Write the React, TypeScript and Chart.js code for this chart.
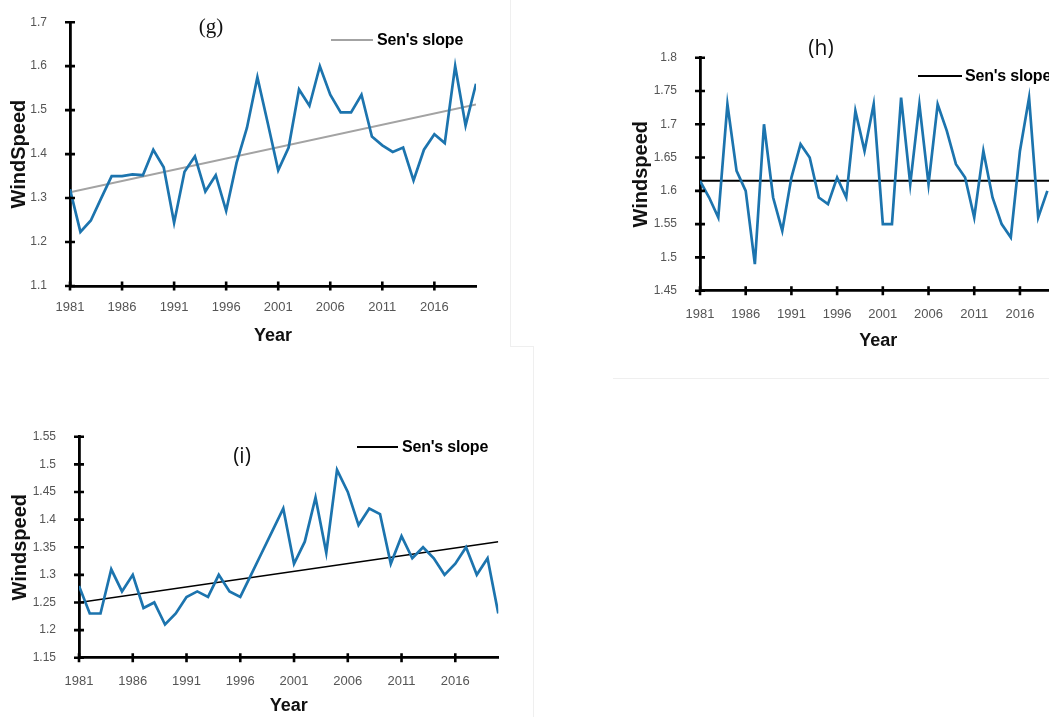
import React, { useEffect, useRef } from "react";
import { Chart, registerables } from "chart.js";

Chart.register(...registerables);

// ---------- data ----------
const years = [
  1981, 1982, 1983, 1984, 1985, 1986, 1987, 1988, 1989, 1990,
  1991, 1992, 1993, 1994, 1995, 1996, 1997, 1998, 1999, 2000,
  2001, 2002, 2003, 2004, 2005, 2006, 2007, 2008, 2009, 2010,
  2011, 2012, 2013, 2014, 2015, 2016, 2017, 2018, 2019, 2020,
];
const xTickYears = [1981, 1986, 1991, 1996, 2001, 2006, 2011, 2016];

const windG = [
  1.32, 1.223, 1.249, 1.30, 1.35, 1.35, 1.354, 1.352, 1.41, 1.37,
  1.244, 1.36, 1.395, 1.315, 1.352, 1.271, 1.38, 1.46, 1.575, 1.47,
  1.363, 1.415, 1.547, 1.51, 1.60, 1.535, 1.495, 1.495, 1.535, 1.44,
  1.42, 1.405, 1.415, 1.34, 1.41, 1.445, 1.425, 1.60, 1.465, 1.56,
];
const senG = [1.313, 1.513];
const yTicksG = [1.1, 1.2, 1.3, 1.4, 1.5, 1.6, 1.7];

const windH = [
  1.615, 1.59, 1.56, 1.73, 1.63, 1.60, 1.49, 1.70, 1.59, 1.54,
  1.62, 1.67, 1.65, 1.59, 1.58, 1.62, 1.59, 1.72, 1.66, 1.73,
  1.55, 1.55, 1.74, 1.61, 1.73, 1.61, 1.73, 1.69, 1.64, 1.62,
  1.56, 1.66, 1.59, 1.55, 1.53, 1.66, 1.74, 1.56, 1.60,
];
const senH = [1.615, 1.615];
const yTicksH = [1.45, 1.5, 1.55, 1.6, 1.65, 1.7, 1.75, 1.8];

const windI = [
  1.28, 1.23, 1.23, 1.31, 1.27, 1.30, 1.24, 1.25, 1.21, 1.23,
  1.26, 1.27, 1.26, 1.30, 1.27, 1.26, 1.30, 1.34, 1.38, 1.42,
  1.32, 1.36, 1.44, 1.34, 1.49, 1.45, 1.39, 1.42, 1.41, 1.32,
  1.37, 1.33, 1.35, 1.33, 1.30, 1.32, 1.35, 1.30, 1.33, 1.23,
];
const senI = [1.25, 1.36];
const yTicksI = [1.15, 1.2, 1.25, 1.3, 1.35, 1.4, 1.45, 1.5, 1.55];

const BLUE = "#1c74ae";
const SANS = '"Liberation Sans", Arial, sans-serif';

type PanelSpec = {
  left: number; top: number; width: number; height: number;
  yWidth: number; xHeight: number; padTop: number; padRight: number;
  values: number[]; sen: number[]; senColor: string; senWidth: number;
  yTicks: number[]; yTitle: string; yTitlePad: number; yTitleSize: number;
  xTitlePad: number; xTickPad: number; yTickPad: number;
  label: string; labelFont: string; labelX: number; labelY: number;
  legX1: number; legX2: number; legY: number; legTextX: number;
};

function makePlugin(p: PanelSpec) {
  return {
    id: "decor",
    afterDraw(chart: any) {
      const { ctx, chartArea, scales } = chart;
      const xs = scales.x, ys = scales.y;
      ctx.save();
      // crossing tick marks
      ctx.strokeStyle = "#000";
      ctx.lineWidth = 2.6;
      ctx.beginPath();
      for (const t of xs.ticks) {
        const px = xs.getPixelForValue(t.value);
        ctx.moveTo(px, chartArea.bottom - 4.5);
        ctx.lineTo(px, chartArea.bottom + 4.5);
      }
      for (const t of ys.ticks) {
        const py = ys.getPixelForValue(t.value);
        ctx.moveTo(chartArea.left - 5, py);
        ctx.lineTo(chartArea.left + 5, py);
      }
      ctx.stroke();
      // panel label
      ctx.fillStyle = "#111";
      ctx.font = p.labelFont;
      ctx.textAlign = "center";
      ctx.textBaseline = "middle";
      ctx.fillText(p.label, p.labelX, p.labelY);
      // legend
      ctx.strokeStyle = p.senColor;
      ctx.lineWidth = 2;
      ctx.beginPath();
      ctx.moveTo(p.legX1, p.legY);
      ctx.lineTo(p.legX2, p.legY);
      ctx.stroke();
      ctx.fillStyle = "#000";
      ctx.font = `bold 16px ${SANS}`;
      ctx.textAlign = "left";
      try { (ctx as any).letterSpacing = "-0.2px"; } catch (e) {}
      ctx.fillText(chart.data.datasets[1].label, p.legTextX, p.legY + 1);
      ctx.restore();
    },
  };
}

function Panel({ p }: { p: PanelSpec }) {
  const ref = useRef<HTMLCanvasElement | null>(null);
  useEffect(() => {
    if (!ref.current) return;
    const pts = p.values.map((v, i) => ({ x: years[i], y: v }));
    const senPts = [
      { x: years[0], y: p.sen[0] },
      { x: years[years.length - 1], y: p.sen[1] },
    ];
    const chart = new Chart(ref.current, {
      type: "line",
      data: {
        datasets: [
          {
            label: "WindSpeed",
            data: pts,
            borderColor: BLUE,
            borderWidth: 2.7,
            pointRadius: 0,
            tension: 0,
            fill: false,
          },
          {
            label: "Sen's slope",
            data: senPts,
            borderColor: p.senColor,
            borderWidth: p.senWidth,
            pointRadius: 0,
            tension: 0,
            fill: false,
          },
        ],
      },
      options: {
        responsive: false,
        animation: false,
        events: [],
        layout: { padding: { top: p.padTop, right: p.padRight, left: 0, bottom: 0 } },
        plugins: { legend: { display: false }, tooltip: { enabled: false }, title: { display: false } },
        scales: {
          x: {
            type: "linear",
            min: years[0],
            max: years[years.length - 1],
            afterBuildTicks: (s: any) => { s.ticks = xTickYears.map((v) => ({ value: v })); },
            afterFit: (s: any) => { s.height = p.xHeight; },
            grid: { display: false },
            border: { display: true, color: "#000", width: 2.8 },
            ticks: {
              padding: p.xTickPad,
              color: "#555",
              font: { family: SANS, size: 13 },
              maxRotation: 0,
              autoSkip: false,
              callback: (v: any) => String(v),
            },
            title: {
              display: true,
              text: "Year",
              color: "#111",
              font: { family: SANS, size: 18, weight: "bold" },
              padding: { top: 0, bottom: p.xTitlePad },
            },
          },
          y: {
            type: "linear",
            min: p.yTicks[0],
            max: p.yTicks[p.yTicks.length - 1],
            afterBuildTicks: (s: any) => { s.ticks = p.yTicks.map((v) => ({ value: v })); },
            afterFit: (s: any) => { s.width = p.yWidth; },
            grid: { display: false },
            border: { display: true, color: "#000", width: 2.8 },
            ticks: {
              padding: p.yTickPad,
              color: "#555",
              font: { family: SANS, size: 12 },
              autoSkip: false,
              callback: (v: any) => String(v),
            },
            title: {
              display: true,
              text: p.yTitle,
              color: "#111",
              font: { family: SANS, size: p.yTitleSize, weight: "bold" },
              padding: { top: p.yTitlePad, bottom: 0 },
            },
          },
        },
      },
      plugins: [makePlugin(p)],
    } as any);
    return () => chart.destroy();
  }, [p]);
  return (
    <canvas
      ref={ref}
      width={p.width}
      height={p.height}
      style={{ position: "absolute", left: p.left, top: p.top, width: p.width, height: p.height }}
    />
  );
}

const panelG: PanelSpec = {
  left: 0, top: 0, width: 520, height: 350,
  yWidth: 70, xHeight: 64, padTop: 14, padRight: 44,
  values: windG, sen: senG, senColor: "#a3a3a3", senWidth: 2,
  yTicks: yTicksG, yTitle: "WindSpeed", yTitlePad: 7, yTitleSize: 20,
  xTitlePad: 3, xTickPad: 6, yTickPad: 15,
  label: "(g)", labelFont: '21px "Liberation Serif", "Times New Roman", serif', labelX: 211, labelY: 27,
  legX1: 331, legX2: 373, legY: 40, legTextX: 377,
};

const panelH: PanelSpec = {
  left: 600, top: 30, width: 520, height: 340,
  yWidth: 100, xHeight: 79.3, padTop: 27.7, padRight: 63.5,
  values: windH, sen: senH, senColor: "#000", senWidth: 2,
  yTicks: yTicksH, yTitle: "Windspeed", yTitlePad: 29.5, yTitleSize: 20,
  xTitlePad: 18, xTickPad: 8, yTickPad: 15,
  label: "(h)", labelFont: '21px "Open Sans", "Noto Sans", sans-serif', labelX: 221, labelY: 19,
  legX1: 318, legX2: 362, legY: 46, legTextX: 365,
};

const panelI: PanelSpec = {
  left: 0, top: 390, width: 530, height: 327,
  yWidth: 79, xHeight: 59.3, padTop: 46.7, padRight: 31.7,
  values: windI, sen: senI, senColor: "#000", senWidth: 1.6,
  yTicks: yTicksI, yTitle: "Windspeed", yTitlePad: 8.5, yTitleSize: 20,
  xTitlePad: 0, xTickPad: 8, yTickPad: 15,
  label: "(i)", labelFont: '21px "Open Sans", "Noto Sans", sans-serif', labelX: 242, labelY: 67,
  legX1: 357, legX2: 398, legY: 57, legTextX: 402,
};

const faint = "#efefef";

export default function App() {
  return (
    <div
      style={{
        position: "fixed", left: 0, top: 0, width: 1049, height: 717,
        overflow: "hidden", background: "#fff",
      }}
    >
      <div style={{ position: "absolute", left: 510, top: 0, width: 1, height: 346, background: faint }} />
      <div style={{ position: "absolute", left: 510, top: 346, width: 23, height: 1, background: faint }} />
      <div style={{ position: "absolute", left: 533, top: 346, width: 1, height: 371, background: faint }} />
      <div style={{ position: "absolute", left: 613, top: 378, width: 436, height: 1, background: faint }} />
      <Panel p={panelG} />
      <Panel p={panelH} />
      <Panel p={panelI} />
    </div>
  );
}
